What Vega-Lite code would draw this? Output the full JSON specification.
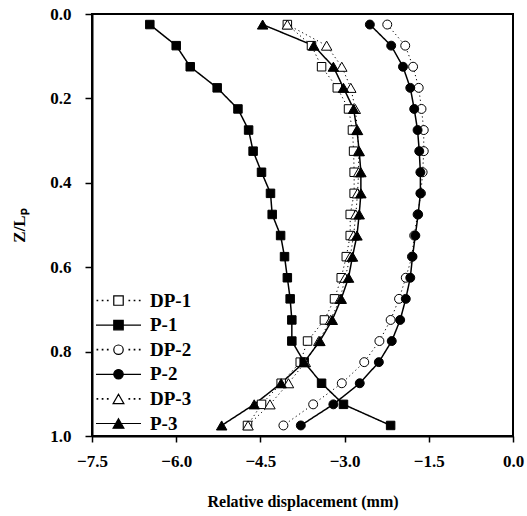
{
  "$schema": "https://vega.github.io/schema/vega-lite/v6.json",
  "width": 421,
  "height": 422,
  "autosize": {"type": "none"},
  "padding": {"left": 92, "top": 14, "right": 14, "bottom": 80},
  "background": "white",
  "datasets": {
    "pts": [
      {"s":"DP-1","k":0,"z":0.025,"x":-4.02},{"s":"DP-1","k":1,"z":0.075,"x":-3.59},{"s":"DP-1","k":2,"z":0.125,"x":-3.41},{"s":"DP-1","k":3,"z":0.175,"x":-3.13},{"s":"DP-1","k":4,"z":0.225,"x":-2.93},{"s":"DP-1","k":5,"z":0.275,"x":-2.86},{"s":"DP-1","k":6,"z":0.325,"x":-2.84},{"s":"DP-1","k":7,"z":0.375,"x":-2.83},{"s":"DP-1","k":8,"z":0.425,"x":-2.83},{"s":"DP-1","k":9,"z":0.475,"x":-2.90},{"s":"DP-1","k":10,"z":0.525,"x":-2.90},{"s":"DP-1","k":11,"z":0.575,"x":-2.97},{"s":"DP-1","k":12,"z":0.625,"x":-3.06},{"s":"DP-1","k":13,"z":0.675,"x":-3.18},{"s":"DP-1","k":14,"z":0.725,"x":-3.36},{"s":"DP-1","k":15,"z":0.775,"x":-3.66},{"s":"DP-1","k":16,"z":0.825,"x":-3.79},{"s":"DP-1","k":17,"z":0.875,"x":-4.13},{"s":"DP-1","k":18,"z":0.925,"x":-4.48},{"s":"DP-1","k":19,"z":0.975,"x":-4.73},
      {"s":"P-1","k":0,"z":0.025,"x":-6.47},{"s":"P-1","k":1,"z":0.075,"x":-6.00},{"s":"P-1","k":2,"z":0.125,"x":-5.75},{"s":"P-1","k":3,"z":0.175,"x":-5.27},{"s":"P-1","k":4,"z":0.225,"x":-4.90},{"s":"P-1","k":5,"z":0.275,"x":-4.71},{"s":"P-1","k":6,"z":0.325,"x":-4.63},{"s":"P-1","k":7,"z":0.375,"x":-4.48},{"s":"P-1","k":8,"z":0.425,"x":-4.32},{"s":"P-1","k":9,"z":0.475,"x":-4.29},{"s":"P-1","k":10,"z":0.525,"x":-4.14},{"s":"P-1","k":11,"z":0.575,"x":-4.07},{"s":"P-1","k":12,"z":0.625,"x":-4.02},{"s":"P-1","k":13,"z":0.675,"x":-3.97},{"s":"P-1","k":14,"z":0.725,"x":-3.94},{"s":"P-1","k":15,"z":0.775,"x":-3.94},{"s":"P-1","k":16,"z":0.825,"x":-3.72},{"s":"P-1","k":17,"z":0.875,"x":-3.41},{"s":"P-1","k":18,"z":0.925,"x":-3.02},{"s":"P-1","k":19,"z":0.975,"x":-2.18},
      {"s":"DP-2","k":0,"z":0.025,"x":-2.24},{"s":"DP-2","k":1,"z":0.075,"x":-1.92},{"s":"DP-2","k":2,"z":0.125,"x":-1.78},{"s":"DP-2","k":3,"z":0.175,"x":-1.68},{"s":"DP-2","k":4,"z":0.225,"x":-1.63},{"s":"DP-2","k":5,"z":0.275,"x":-1.59},{"s":"DP-2","k":6,"z":0.325,"x":-1.59},{"s":"DP-2","k":7,"z":0.375,"x":-1.61},{"s":"DP-2","k":8,"z":0.425,"x":-1.64},{"s":"DP-2","k":9,"z":0.475,"x":-1.70},{"s":"DP-2","k":10,"z":0.525,"x":-1.76},{"s":"DP-2","k":11,"z":0.575,"x":-1.80},{"s":"DP-2","k":12,"z":0.625,"x":-1.91},{"s":"DP-2","k":13,"z":0.675,"x":-2.03},{"s":"DP-2","k":14,"z":0.725,"x":-2.18},{"s":"DP-2","k":15,"z":0.775,"x":-2.38},{"s":"DP-2","k":16,"z":0.825,"x":-2.65},{"s":"DP-2","k":17,"z":0.875,"x":-3.05},{"s":"DP-2","k":18,"z":0.925,"x":-3.56},{"s":"DP-2","k":19,"z":0.975,"x":-4.09},
      {"s":"P-2","k":0,"z":0.025,"x":-2.55},{"s":"P-2","k":1,"z":0.075,"x":-2.17},{"s":"P-2","k":2,"z":0.125,"x":-1.96},{"s":"P-2","k":3,"z":0.175,"x":-1.83},{"s":"P-2","k":4,"z":0.225,"x":-1.76},{"s":"P-2","k":5,"z":0.275,"x":-1.70},{"s":"P-2","k":6,"z":0.325,"x":-1.67},{"s":"P-2","k":7,"z":0.375,"x":-1.65},{"s":"P-2","k":8,"z":0.425,"x":-1.65},{"s":"P-2","k":9,"z":0.475,"x":-1.69},{"s":"P-2","k":10,"z":0.525,"x":-1.74},{"s":"P-2","k":11,"z":0.575,"x":-1.79},{"s":"P-2","k":12,"z":0.625,"x":-1.83},{"s":"P-2","k":13,"z":0.675,"x":-1.91},{"s":"P-2","k":14,"z":0.725,"x":-2.01},{"s":"P-2","k":15,"z":0.775,"x":-2.16},{"s":"P-2","k":16,"z":0.825,"x":-2.39},{"s":"P-2","k":17,"z":0.875,"x":-2.73},{"s":"P-2","k":18,"z":0.925,"x":-3.20},{"s":"P-2","k":19,"z":0.975,"x":-3.78},
      {"s":"DP-3","k":0,"z":0.025,"x":-4.02},{"s":"DP-3","k":1,"z":0.075,"x":-3.32},{"s":"DP-3","k":2,"z":0.125,"x":-3.05},{"s":"DP-3","k":3,"z":0.175,"x":-2.89},{"s":"DP-3","k":4,"z":0.225,"x":-2.81},{"s":"DP-3","k":5,"z":0.275,"x":-2.77},{"s":"DP-3","k":6,"z":0.325,"x":-2.75},{"s":"DP-3","k":7,"z":0.375,"x":-2.75},{"s":"DP-3","k":8,"z":0.425,"x":-2.77},{"s":"DP-3","k":9,"z":0.475,"x":-2.80},{"s":"DP-3","k":10,"z":0.525,"x":-2.84},{"s":"DP-3","k":11,"z":0.575,"x":-2.90},{"s":"DP-3","k":12,"z":0.625,"x":-2.99},{"s":"DP-3","k":13,"z":0.675,"x":-3.08},{"s":"DP-3","k":14,"z":0.725,"x":-3.25},{"s":"DP-3","k":15,"z":0.775,"x":-3.46},{"s":"DP-3","k":16,"z":0.825,"x":-3.70},{"s":"DP-3","k":17,"z":0.875,"x":-4.00},{"s":"DP-3","k":18,"z":0.925,"x":-4.33},{"s":"DP-3","k":19,"z":0.975,"x":-4.72},
      {"s":"P-3","k":0,"z":0.025,"x":-4.46},{"s":"P-3","k":1,"z":0.075,"x":-3.55},{"s":"P-3","k":2,"z":0.125,"x":-3.20},{"s":"P-3","k":3,"z":0.175,"x":-3.02},{"s":"P-3","k":4,"z":0.225,"x":-2.84},{"s":"P-3","k":5,"z":0.275,"x":-2.78},{"s":"P-3","k":6,"z":0.325,"x":-2.74},{"s":"P-3","k":7,"z":0.375,"x":-2.71},{"s":"P-3","k":8,"z":0.425,"x":-2.71},{"s":"P-3","k":9,"z":0.475,"x":-2.74},{"s":"P-3","k":10,"z":0.525,"x":-2.78},{"s":"P-3","k":11,"z":0.575,"x":-2.86},{"s":"P-3","k":12,"z":0.625,"x":-2.93},{"s":"P-3","k":13,"z":0.675,"x":-3.06},{"s":"P-3","k":14,"z":0.725,"x":-3.22},{"s":"P-3","k":15,"z":0.775,"x":-3.44},{"s":"P-3","k":16,"z":0.825,"x":-3.72},{"s":"P-3","k":17,"z":0.875,"x":-4.13},{"s":"P-3","k":18,"z":0.925,"x":-4.61},{"s":"P-3","k":19,"z":0.975,"x":-5.19}
    ]
  },
  "data": {"name": "pts"},
  "encoding": {
    "x": {
      "field": "x", "type": "quantitative",
      "scale": {"domain": [-7.5, 0], "nice": false, "zero": false},
      "axis": {"values": [-7.5, -6, -4.5, -3, -1.5, 0], "format": ".1f", "labelPadding": 11, "titlePadding": 24, "labelFlush": false, "labelOverlap": false, "title": "Relative displacement (mm)"}
    },
    "y": {
      "field": "z", "type": "quantitative",
      "scale": {"domain": [0, 1], "reverse": true, "nice": false},
      "axis": {"values": [0, 0.2, 0.4, 0.6, 0.8, 1.0], "format": ".1f", "labelPadding": 14, "tickSize": 7, "titlePadding": 21, "labelFlush": false, "labelOverlap": false, "title": "Z/Lₚ", "titleFontSize": 17}
    }
  },
  "layer": [
    {
      "mark": {"type": "line", "color": "black"},
      "encoding": {
        "detail": {"field": "s", "type": "nominal"},
        "order": {"field": "k", "type": "quantitative"},
        "strokeDash": {"field": "s", "type": "nominal", "legend": null,
          "scale": {"domain": ["DP-1","P-1","DP-2","P-2","DP-3","P-3"], "range": [[1.2,3],[1,0],[1.2,3],[1,0],[1.2,3],[1,0]]}},
        "strokeWidth": {"field": "s", "type": "nominal", "legend": null,
          "scale": {"type": "ordinal", "domain": ["DP-1","P-1","DP-2","P-2","DP-3","P-3"], "range": [1,1.5,1,1.5,1,1.5]}}
      }
    },
    {
      "mark": {"type": "point", "stroke": "black", "strokeWidth": 1, "opacity": 1},
      "encoding": {
        "fill": {"field": "s", "type": "nominal", "legend": null,
          "scale": {"domain": ["DP-1","P-1","DP-2","P-2","DP-3","P-3"], "range": ["white","black","white","black","white","black"]}},
        "size": {"field": "s", "type": "nominal", "legend": null,
          "scale": {"type": "ordinal", "domain": ["DP-1","P-1","DP-2","P-2","DP-3","P-3"], "range": [72,72,80,80,110,110]}},
        "shape": {"field": "s", "type": "nominal", "legend": null,
          "scale": {"domain": ["DP-1","P-1","DP-2","P-2","DP-3","P-3"], "range": ["square","square","circle","circle","triangle-up","triangle-up"]}}
      }
    },
    {
      "transform": [{"filter": "false"}],
      "mark": {"type": "point", "stroke": "black", "strokeWidth": 1.2, "opacity": 1},
      "encoding": {
        "fill": {"field": "s", "type": "nominal",
          "scale": {"domain": ["DP-1","P-1","DP-2","P-2","DP-3","P-3"], "range": ["white","black","white","black","white","black"]}},
        "stroke": {"field": "s", "type": "nominal",
          "scale": {"domain": ["DP-1","P-1","DP-2","P-2","DP-3","P-3"], "range": ["black","black","black","black","black","black"]}},
        "shape": {"field": "s", "type": "nominal",
          "scale": {"domain": ["DP-1","P-1","DP-2","P-2","DP-3","P-3"], "range": [
            "M-4.75,-0.06h0.12v0.12h-0.12ZM-3.6,-0.06h0.12v0.12h-0.12ZM-2.45,-0.06h0.12v0.12h-0.12ZM2.35,-0.06h0.12v0.12h-0.12ZM3.5,-0.06h0.12v0.12h-0.12ZM4.65,-0.06h0.12v0.12h-0.12ZM-1.05,-1.05H1.05V1.05H-1.05Z",
            "M-5,0H5M-1.05,-1.05H1.05V1.05H-1.05Z",
            "M-4.75,-0.06h0.12v0.12h-0.12ZM-3.6,-0.06h0.12v0.12h-0.12ZM-2.45,-0.06h0.12v0.12h-0.12ZM2.35,-0.06h0.12v0.12h-0.12ZM3.5,-0.06h0.12v0.12h-0.12ZM4.65,-0.06h0.12v0.12h-0.12ZM-1.05,0A1.05,1.05,0,1,1,1.05,0A1.05,1.05,0,1,1,-1.05,0Z",
            "M-5,0H5M-1.05,0A1.05,1.05,0,1,1,1.05,0A1.05,1.05,0,1,1,-1.05,0Z",
            "M-4.75,-0.06h0.12v0.12h-0.12ZM-3.6,-0.06h0.12v0.12h-0.12ZM-2.45,-0.06h0.12v0.12h-0.12ZM2.35,-0.06h0.12v0.12h-0.12ZM3.5,-0.06h0.12v0.12h-0.12ZM4.65,-0.06h0.12v0.12h-0.12ZM0,-1.05L1.2,1.05L-1.2,1.05Z",
            "M-5,0H5M0,-1.05L1.2,1.05L-1.2,1.05Z"
          ]},
          "legend": {
            "orient": "none", "legendX": 17, "legendY": 277, "title": null, "padding": 0,
            "labelFont": "Liberation Serif", "labelFontSize": 19, "labelFontWeight": "bold", "labelColor": "black",
            "rowPadding": 4.6, "labelOffset": 22, "symbolSize": 81,
            "symbolStrokeColor": "black", "symbolStrokeWidth": 1.2
          }
        }
      }
    }
  ],
  "resolve": {"scale": {"shape": "independent", "fill": "independent", "stroke": "independent"}},
  "config": {
    "font": "Liberation Serif",
    "view": {"stroke": "black", "strokeWidth": 2},
    "axis": {
      "grid": false, "domainColor": "black", "domainWidth": 2,
      "tickColor": "black", "tickWidth": 1.5, "tickSize": 6,
      "labelFont": "Liberation Serif", "labelFontWeight": "bold", "labelFontSize": 17, "labelColor": "black",
      "titleFont": "Liberation Serif", "titleFontWeight": "bold", "titleFontSize": 16, "titleColor": "black"
    }
  }
}
